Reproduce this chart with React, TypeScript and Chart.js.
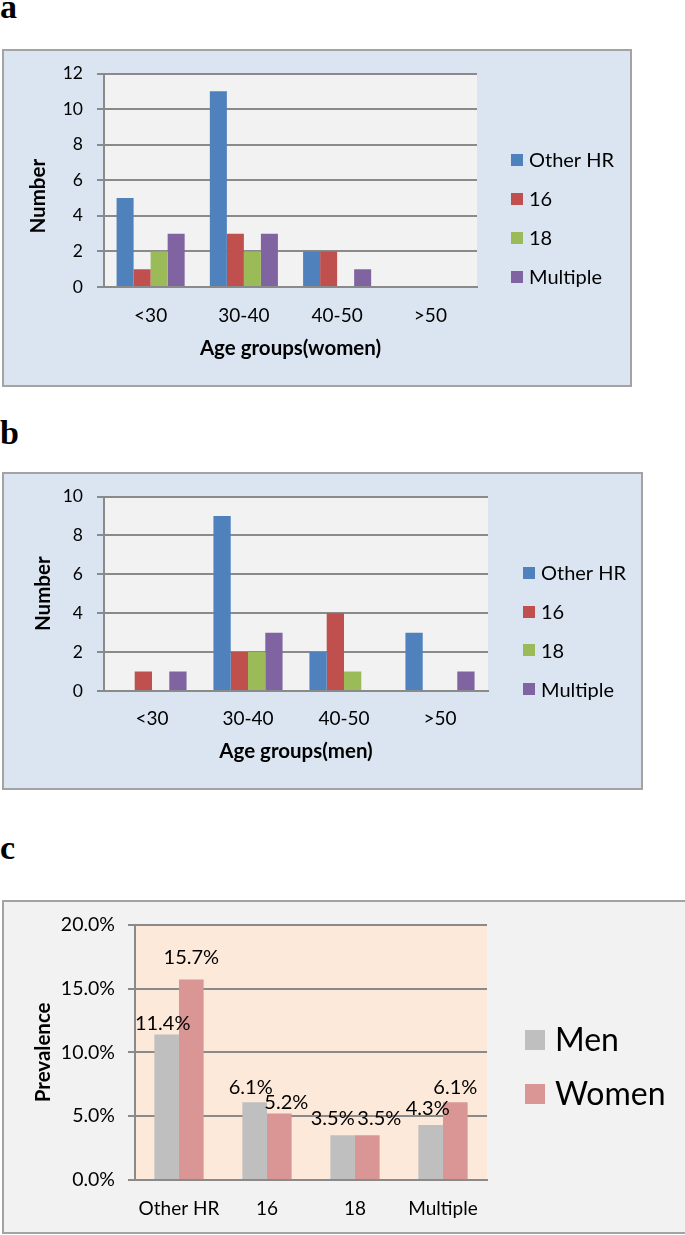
import React, { useEffect, useRef } from 'react';
import { Chart, registerables } from 'chart.js';

Chart.register(...registerables);

// ---------- data ----------
const ageGroups = ['<30', '30-40', '40-50', '>50'];
const hpvTypes = ['Other HR', '16', '18', 'Multiple'];

const womenOtherHR = [5, 11, 2, 0];
const women16 = [1, 3, 2, 0];
const women18 = [2, 2, 0, 0];
const womenMultiple = [3, 3, 1, 0];

const menOtherHR = [0, 9, 2, 3];
const men16 = [1, 2, 4, 0];
const men18 = [0, 2, 1, 0];
const menMultiple = [1, 3, 0, 1];

const prevalenceCategories = ['Other HR', '16', '18', 'Multiple'];
const sexLabels = ['Men', 'Women'];
const prevalenceMen = [11.4, 6.1, 3.5, 4.3];
const prevalenceWomen = [15.7, 5.2, 3.5, 6.1];

const womenAxisMax = 12;
const menAxisMax = 10;
const countStep = 2;
const prevalenceAxisMax = 20;
const prevalenceStep = 5;

// ---------- styles ----------
const FONT = 'Lato, "Open Sans", sans-serif';
const GRID = '#8a8a8a';
const typeColors = ['#4f81bd', '#c0504d', '#9bbb59', '#8064a2'];
const sexColors = ['#bfbfbf', '#d99694'];

// small label nudges (pixels) to mimic the spreadsheet's label placement
const labelNudgeX = [
  [-4, -4, -10, -3],
  [0, 7, 12, 0],
];
const labelNudgeY = [
  [0, -4, -6, -6],
  [-11, 0, -6, -4],
];

const framePlugin = {
  id: 'frame',
  beforeDraw(chart: any, _args: any, opts: any) {
    const { ctx, width, height, chartArea } = chart;
    ctx.save();
    ctx.fillStyle = opts.bg;
    ctx.fillRect(0, 0, width, height);
    ctx.strokeStyle = opts.border;
    ctx.lineWidth = 2;
    ctx.strokeRect(1, 1, width - 2, height - 2);
    ctx.fillStyle = opts.plotBg;
    ctx.fillRect(chartArea.left, chartArea.top, chartArea.right - chartArea.left, chartArea.bottom - chartArea.top);
    ctx.restore();
  },
  afterDraw(chart: any, _args: any, opts: any) {
    const { ctx, chartArea } = chart;
    const yt = opts.yTitle;
    if (yt) {
      ctx.save();
      ctx.font = `bold ${yt.fontSize}px ${FONT}`;
      ctx.fillStyle = '#000';
      ctx.textAlign = 'center';
      ctx.textBaseline = 'middle';
      ctx.translate(yt.x, (chartArea.top + chartArea.bottom) / 2 + yt.shift);
      ctx.rotate(-Math.PI / 2);
      ctx.fillText(yt.text, 0, 0);
      ctx.restore();
    }
    const lg = opts.legend;
    if (!lg) return;
    ctx.save();
    ctx.font = `${lg.fontSize}px ${FONT}`;
    ctx.textBaseline = 'middle';
    ctx.textAlign = 'left';
    chart.data.datasets.forEach((ds: any, i: number) => {
      const cy = lg.y0 + i * lg.dy;
      ctx.fillStyle = ds.backgroundColor;
      ctx.fillRect(lg.boxX, Math.round(cy - lg.box / 2), lg.box, lg.box);
      ctx.fillStyle = '#000';
      ctx.fillText(ds.label, lg.textX, cy + 1);
    });
    ctx.restore();
  },
};

const valueLabelPlugin = {
  id: 'valueLabels',
  afterDatasetsDraw(chart: any, _args: any, opts: any) {
    if (!opts || !opts.display) return;
    const { ctx } = chart;
    ctx.save();
    ctx.font = `${opts.fontSize}px ${FONT}`;
    ctx.fillStyle = '#000';
    ctx.textAlign = 'center';
    ctx.textBaseline = 'bottom';
    chart.data.datasets.forEach((ds: any, i: number) => {
      const meta = chart.getDatasetMeta(i);
      meta.data.forEach((el: any, j: number) => {
        const v = ds.data[j];
        const dx = (labelNudgeX[i] && labelNudgeX[i][j]) || 0;
        const dy = (labelNudgeY[i] && labelNudgeY[i][j]) || 0;
        ctx.fillText(`${v.toFixed(1)}%`, el.x + dx, el.y - 1 + dy);
      });
    });
    ctx.restore();
  },
};

type Area = { left: number; top: number; right: number; bottom: number };

function buildConfig(spec: any) {
  const { w, h, area, yw } = spec;
  return {
    type: 'bar',
    data: { labels: spec.labels, datasets: spec.datasets },
    options: {
      responsive: false,
      animation: false,
      devicePixelRatio: 1,
      events: [],
      layout: { padding: { left: area.left - yw, top: area.top, right: w - area.right, bottom: 0 } },
      datasets: { bar: { categoryPercentage: spec.catPct, barPercentage: 1, borderWidth: 0 } },
      plugins: {
        legend: { display: false },
        tooltip: { enabled: false },
        frame: {
          bg: spec.bg,
          border: '#a3a3a3',
          plotBg: spec.plotBg,
          legend: spec.legend,
          yTitle: { text: spec.yTitle, x: spec.yTitleX, shift: spec.yTitleShift, fontSize: 20.5 },
        },
        valueLabels: { display: !!spec.valueLabels, fontSize: 20 },
      },
      scales: {
        x: {
          afterFit: (s: any) => {
            s.height = h - area.bottom;
          },
          grid: { display: false, drawTicks: false, tickLength: 0 },
          border: { display: true, color: GRID, width: 2 },
          ticks: {
            color: '#000',
            font: { family: FONT, size: 19 },
            padding: spec.xTickPad,
            maxRotation: 0,
            autoSkip: false,
          },
          title: spec.xTitle
            ? {
                display: true,
                text: spec.xTitle,
                color: '#000',
                font: { family: FONT, size: 20.5, weight: 'bold' },
                padding: { top: 0, bottom: spec.xTitlePad },
              }
            : { display: false },
        },
        y: {
          min: 0,
          max: spec.yMax,
          afterFit: (s: any) => {
            s.width = yw;
          },
          ticks: {
            stepSize: spec.yStep,
            color: '#000',
            font: { family: FONT, size: spec.yTickSize },
            padding: spec.yTickPad,
            callback: spec.yFmt,
          },
          grid: { color: GRID, lineWidth: 2, tickLength: 7, drawTicks: true },
          border: { display: true, color: GRID, width: 2 },
          title: { display: false },
        },
      },
    },
    plugins: [framePlugin, valueLabelPlugin],
  };
}

function ChartPanel({ x, y, spec }: { x: number; y: number; spec: any }) {
  const ref = useRef<HTMLCanvasElement>(null);
  useEffect(() => {
    const chart = new Chart(ref.current as HTMLCanvasElement, buildConfig(spec) as any);
    return () => chart.destroy();
  }, []);
  return (
    <canvas
      ref={ref}
      width={spec.w}
      height={spec.h}
      style={{ position: 'absolute', left: x, top: y, width: spec.w, height: spec.h }}
    />
  );
}

const countDatasets = (series: number[][]) =>
  series.map((d, i) => ({ label: hpvTypes[i], data: d, backgroundColor: typeColors[i] }));

const specA = {
  w: 630,
  h: 338,
  area: { left: 102, top: 24, right: 475, bottom: 238 } as Area,
  yw: 90,
  labels: ageGroups,
  datasets: countDatasets([womenOtherHR, women16, women18, womenMultiple]),
  catPct: 0.73,
  yMax: womenAxisMax,
  yStep: countStep,
  yTickSize: 17.5,
  yTickPad: 14,
  yTitle: 'Number',
  yTitleX: 36,
  yTitleShift: 16,
  xTitle: 'Age groups(women)',
  xTickPad: 17,
  xTitlePad: 26,
  bg: '#dbe5f1',
  plotBg: '#f2f2f2',
  legend: { boxX: 509, textX: 527, y0: 111, dy: 39, box: 12, fontSize: 20 },
};

const specB = {
  w: 641,
  h: 318,
  area: { left: 102, top: 24, right: 486, bottom: 219 } as Area,
  yw: 90,
  labels: ageGroups,
  datasets: countDatasets([menOtherHR, men16, men18, menMultiple]),
  catPct: 0.72,
  yMax: menAxisMax,
  yStep: countStep,
  yTickSize: 17.5,
  yTickPad: 14,
  yTitle: 'Number',
  yTitleX: 41,
  yTitleShift: 0,
  xTitle: 'Age groups(men)',
  xTickPad: 16,
  xTitlePad: 26,
  bg: '#dbe5f1',
  plotBg: '#f2f2f2',
  legend: { boxX: 521, textX: 539, y0: 101, dy: 38.7, box: 12, fontSize: 20 },
};

const specC = {
  w: 686,
  h: 334,
  area: { left: 133, top: 24, right: 485, bottom: 280 } as Area,
  yw: 110,
  labels: prevalenceCategories,
  datasets: [
    { label: sexLabels[0], data: prevalenceMen, backgroundColor: sexColors[0] },
    { label: sexLabels[1], data: prevalenceWomen, backgroundColor: sexColors[1] },
  ],
  catPct: 0.56,
  yMax: prevalenceAxisMax,
  yStep: prevalenceStep,
  yTickSize: 19.5,
  yTickPad: 13,
  yFmt: (v: any) => `${Number(v).toFixed(1)}%`,
  yTitle: 'Prevalence',
  yTitleX: 41,
  yTitleShift: 0,
  xTitle: null,
  xTickPad: 17,
  xTitlePad: 0,
  bg: '#f2f2f2',
  plotBg: '#fde9d9',
  valueLabels: true,
  legend: { boxX: 523, textX: 553, y0: 140, dy: 54, box: 20, fontSize: 32 },
};

const letterStyle = (top: number): React.CSSProperties => ({
  position: 'absolute',
  left: 0,
  top,
  fontFamily: '"Liberation Serif", "DejaVu Serif", serif',
  fontWeight: 'bold',
  fontSize: 34,
  lineHeight: '34px',
  color: '#000',
});

export default function App() {
  return (
    <div
      style={{
        position: 'absolute',
        left: 0,
        top: 0,
        width: 685,
        height: 1235,
        overflow: 'hidden',
        background: '#fff',
      }}
    >
      <div style={letterStyle(-10)}>a</div>
      <ChartPanel x={2} y={49} spec={specA} />
      <div style={letterStyle(416)}>b</div>
      <ChartPanel x={2} y={472} spec={specB} />
      <div style={letterStyle(831)}>c</div>
      <ChartPanel x={2} y={900} spec={specC} />
    </div>
  );
}
